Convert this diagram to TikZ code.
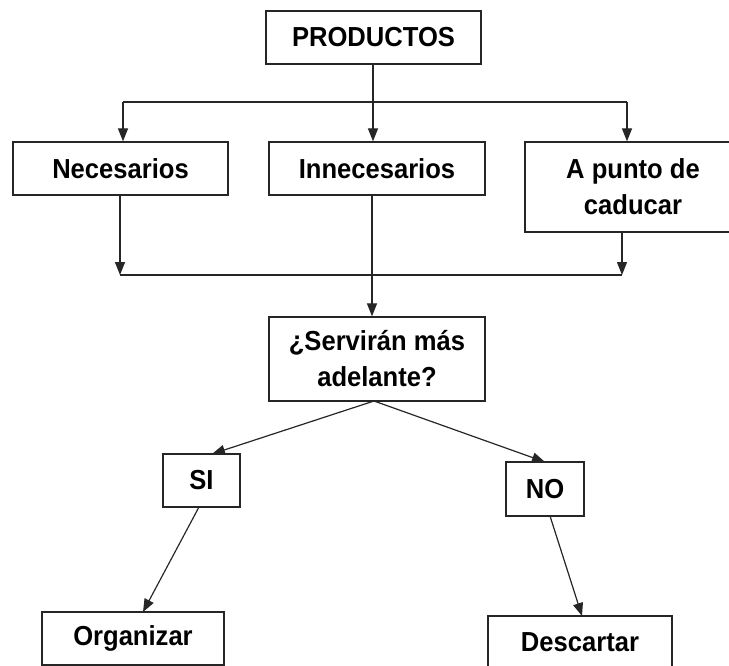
\documentclass[tikz,border=0pt]{standalone}
\usepackage{fontspec}
\setmainfont{Liberation Sans}[FakeStretch=0.93]
\usetikzlibrary{arrows.meta}
\begin{document}
\begin{tikzpicture}[x=1pt,y=-1pt,
  box/.style={draw=black!85, line width=1.3pt, inner sep=0pt, align=center,
    font=\fontsize{27.5}{36}\selectfont\bfseries},
  conn/.style={draw=black!85, line width=1.2pt},
  arr/.style={conn, -{Triangle[length=13pt,width=10pt]}}]
\useasboundingbox (0,0) rectangle (729,666);
\node[box, minimum width=215pt, minimum height=53pt] (prod) at (373.5,37.5) {PRODUCTOS};
\node[box, minimum width=215pt, minimum height=53pt] (nec) at (120.5,168.5) {Necesarios};
\node[box, minimum width=216pt, minimum height=53pt] (innec) at (377,168.5) {Innecesarios};
\node[box, minimum width=216pt, minimum height=90pt] (cad) at (633,187) {A punto de\\caducar};
\node[box, minimum width=216pt, minimum height=84pt] (serv) at (377,359) {¿Servirán más\\adelante?};
\node[box, minimum width=77pt, minimum height=53pt] (si) at (201.5,480.5) {SI};
\node[box, minimum width=78pt, minimum height=54pt] (no) at (545,489) {NO};
\node[box, minimum width=182pt, minimum height=53pt] (org) at (133,638.5) {Organizar};
\node[box, minimum width=184pt, minimum height=53pt] (desc) at (580,642.5) {Descartar};
% top distribution
\coordinate (pb) at (373,64);
\coordinate (hL) at (123,102);
\coordinate (hR) at (627,102);
\draw[arr] (pb) -- (pb |- innec.north);
\draw[conn] (hL) -- (hR);
\draw[arr] (hL) -- (hL |- nec.north);
\draw[arr] (hR) -- (hR |- cad.north);
% lower collection
\coordinate (nb) at (120,195);
\coordinate (cb) at (622,232);
\coordinate (lL) at (120,275);
\coordinate (lR) at (622,275);
\draw[arr] (nb) -- (lL);
\draw[arr] (cb) -- (lR);
\draw[conn] (lL) -- (lR);
\coordinate (ib) at (372,195);
\draw[arr] (ib) -- (ib |- serv.north);
% decision
\coordinate (sb) at (374,401);
\coordinate (sit) at (212,454);
\coordinate (not) at (545,462);
\draw[arr] (sb) -- (sit);
\draw[arr] (sb) -- (not);
\coordinate (sib) at (199,507);
\coordinate (orgt) at (143,612);
\draw[arr] (sib) -- (orgt);
\coordinate (nob) at (550,516);
\coordinate (desct) at (582,616);
\draw[arr] (nob) -- (desct);
\end{tikzpicture}
\end{document}
